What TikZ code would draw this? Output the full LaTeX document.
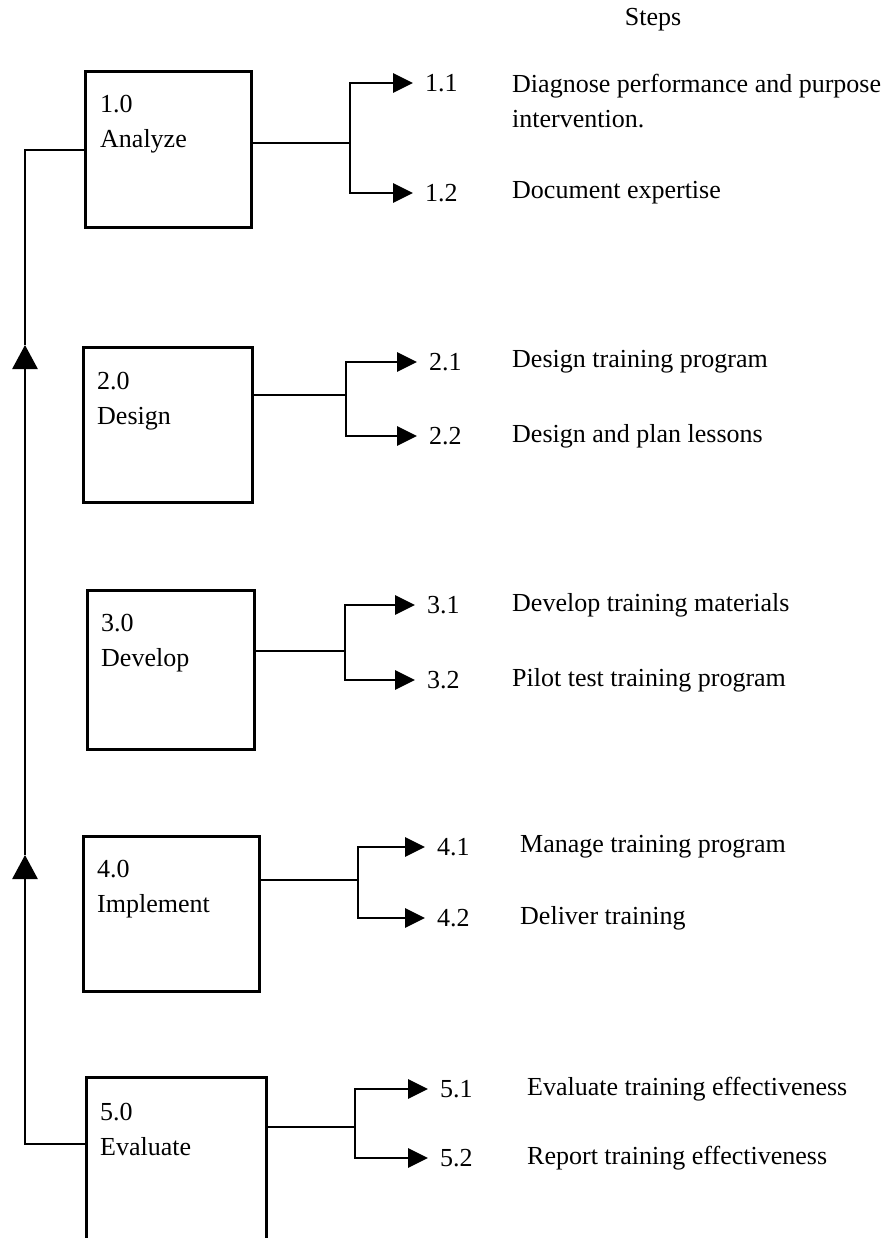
\documentclass[tikz,border=0pt]{standalone}
\usepackage{fontspec}
\setmainfont{Liberation Serif}
\usetikzlibrary{arrows.meta}

\begin{document}
\begin{tikzpicture}[x=1pt, y=-1pt,
        txt/.style={font=\fontsize{26}{35}\selectfont, inner sep=0pt},
        box/.style={draw, line width=3pt, inner sep=0pt},
        wire/.style={line width=2.8pt},
        arr/.style={wire, -{Triangle[length=20pt, width=19pt]}, shorten >=12pt},
        uparr/.style={wire, -{Triangle[length=24pt, width=25pt]}}]
    \useasboundingbox (0,0) rectangle (887,1238);
    \clip (0,0) rectangle (887,1238);

    \node[txt] (hdr) at (653,20) {Steps};

    % phase boxes
    \node[box, minimum width=166pt, minimum height=156pt] (ana) at (168,150) {};
    \node[box, minimum width=169pt, minimum height=155pt] (des) at (167.5,424.5) {};
    \node[box, minimum width=167pt, minimum height=159pt] (dev) at (170.5,669.5) {};
    \node[box, minimum width=176pt, minimum height=155pt] (imp) at (171,913.5) {};
    \node[box, minimum width=180pt, minimum height=213pt] (eva) at (176,1183.5) {};

    \node[txt, align=left, anchor=west] (anat) at (100,124.5) {1.0\\Analyze};
    \node[txt, align=left, anchor=west] (dest) at (97,401.5) {2.0\\Design};
    \node[txt, align=left, anchor=west] (devt) at (101,643.5) {3.0\\Develop};
    \node[txt, align=left, anchor=west] (impt) at (97,889) {4.0\\Implement};
    \node[txt, align=left, anchor=west] (evat) at (100,1129.5) {5.0\\Evaluate};

    % step numbers and texts
    \node[txt, anchor=west] (n11) at (425,83) {1.1};
    \node[txt, anchor=west] (n12) at (425,193) {1.2};
    \node[txt, anchor=west] (n21) at (429,362) {2.1};
    \node[txt, anchor=west] (n22) at (429,436) {2.2};
    \node[txt, anchor=west] (n31) at (427,605) {3.1};
    \node[txt, anchor=west] (n32) at (427,680) {3.2};
    \node[txt, anchor=west] (n41) at (437,847) {4.1};
    \node[txt, anchor=west] (n42) at (437,918) {4.2};
    \node[txt, anchor=west] (n51) at (440,1089) {5.1};
    \node[txt, anchor=west] (n52) at (440,1158) {5.2};

    \node[txt, align=left, anchor=west] (d11) at (512,101.5) {Diagnose performance and purpose\\intervention.};
    \node[txt, anchor=west] (d12) at (512,193) {Document expertise};
    \node[txt, anchor=west] (d21) at (512,362) {Design training program};
    \node[txt, anchor=west] (d22) at (512,436) {Design and plan lessons};
    \node[txt, anchor=west] (d31) at (512,605) {Develop training materials};
    \node[txt, anchor=west] (d32) at (512,680) {Pilot test training program};
    \node[txt, anchor=west] (d41) at (520,847) {Manage training program};
    \node[txt, anchor=west] (d42) at (520,918) {Deliver training};
    \node[txt, anchor=west] (d51) at (527,1089) {Evaluate training effectiveness};
    \node[txt, anchor=west] (d52) at (527,1158) {Report training effectiveness};

    % branch points
    \coordinate (j1) at (350,143);
    \coordinate (j2) at (346,395);
    \coordinate (j3) at (345,651);
    \coordinate (j4) at (358,880);
    \coordinate (j5) at (355,1127);

    \draw[wire] (j1 -| ana.east) -- (j1);
    \draw[arr] (j1) |- (n11.west);
    \draw[arr] (j1) |- (n12.west);
    \draw[wire] (j2 -| des.east) -- (j2);
    \draw[arr] (j2) |- (n21.west);
    \draw[arr] (j2) |- (n22.west);
    \draw[wire] (j3 -| dev.east) -- (j3);
    \draw[arr] (j3) |- (n31.west);
    \draw[arr] (j3) |- (n32.west);
    \draw[wire] (j4 -| imp.east) -- (j4);
    \draw[arr] (j4) |- (n41.west);
    \draw[arr] (j4) |- (n42.west);
    \draw[wire] (j5 -| eva.east) -- (j5);
    \draw[arr] (j5) |- (n51.west);
    \draw[arr] (j5) |- (n52.west);

    % feedback line on the left
    \coordinate (lb) at (25,1144);
    \coordinate (lt) at (25,150);
    \coordinate (up1) at (25,345);
    \coordinate (up2) at (25,855);
    \draw[uparr] (eva.west |- lb) -- (lb) -- (up2);
    \draw[uparr] (up2) -- (up1);
    \draw[wire] (up1) -- (lt) -- (ana.west |- lt);
\end{tikzpicture}
\end{document}
